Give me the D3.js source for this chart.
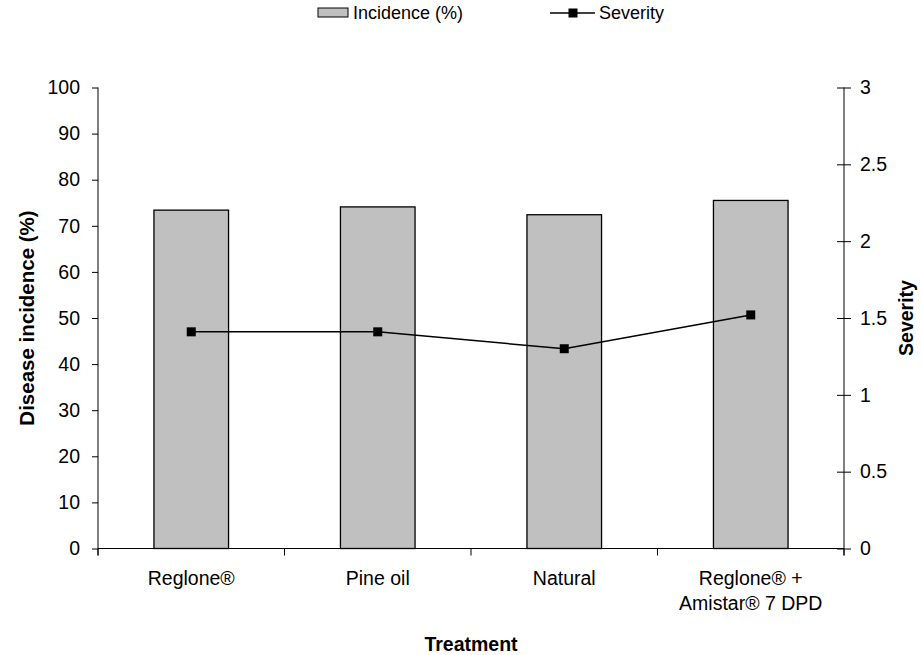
<!DOCTYPE html>
<html>
<head>
<meta charset="utf-8">
<script src="https://cdn.jsdelivr.net/npm/d3@7"></script>
<style>
  body { margin: 0; background: #fff; }
  svg text { font-family: "Liberation Sans", Arial, sans-serif; fill: #000; }
</style>
</head>
<body>
<svg id="chart" width="922" height="655"></svg>
<script>
// Treatments along the x axis
const treatments = [["Reglone®"], ["Pine oil"], ["Natural"], ["Reglone® +", "Amistar® 7 DPD"]];
// Disease incidence (%) — bars, left axis
const incidence = [73.4, 74.1, 72.4, 75.5];
// Severity — line with square markers, right axis
const severity = [1.41, 1.41, 1.30, 1.52];
// Tick values
const incidenceTicks = [0, 10, 20, 30, 40, 50, 60, 70, 80, 90, 100];
const severityTicks = [0, 0.5, 1, 1.5, 2, 2.5, 3];

const svg = d3.select("#chart");
const plotLeft = 98, plotRight = 844, plotTop = 87.5, plotBottom = 548.5;
const fontSize = "19.5px";

const x = d3.scaleBand().domain(d3.range(treatments.length)).range([plotLeft, plotRight]).paddingInner(0.6).paddingOuter(0.3);
const xb = d3.scaleBand().domain(d3.range(treatments.length)).range([plotLeft, plotRight]);
const yL = d3.scaleLinear().domain([0, 100]).range([plotBottom, plotTop]);
const yR = d3.scaleLinear().domain([0, 3]).range([plotBottom, plotTop]);

// Bars
svg.append("g").selectAll("rect").data(incidence).join("rect")
  .attr("x", (d, i) => x(i))
  .attr("y", d => yL(d))
  .attr("width", x.bandwidth())
  .attr("height", d => yL(0) - yL(d))
  .attr("fill", "#c0c0c0")
  .attr("stroke", "#000")
  .attr("stroke-width", 1.3);

// Left axis
const gL = svg.append("g").attr("transform", `translate(${plotLeft},0)`)
  .call(d3.axisLeft(yL).tickValues(incidenceTicks).tickSize(6).tickPadding(12).tickFormat(d3.format("d")));
gL.select(".domain").attr("d", `M0,${plotTop}V${plotBottom + 7}`);
gL.selectAll("text").style("font-size", fontSize).attr("font-family", null);

// Right axis (ticks cross the axis line)
const gR = svg.append("g").attr("transform", `translate(${plotRight},0)`)
  .call(d3.axisRight(yR).tickValues(severityTicks).tickSize(7).tickPadding(9).tickFormat(d => d));
gR.select(".domain").attr("d", `M0,${plotTop}V${plotBottom + 7}`);
gR.selectAll(".tick line").attr("x1", -7);
gR.selectAll("text").style("font-size", fontSize).attr("font-family", null);

// Category axis
const gX = svg.append("g");
gX.append("line").attr("x1", plotLeft).attr("x2", plotRight).attr("y1", plotBottom).attr("y2", plotBottom).attr("stroke", "#000");
gX.selectAll("line.sep").data(d3.range(treatments.length + 1)).join("line").attr("class", "sep")
  .attr("x1", i => plotLeft + i * xb.step()).attr("x2", i => plotLeft + i * xb.step())
  .attr("y1", plotBottom).attr("y2", plotBottom + 7).attr("stroke", "#000");
const labels = gX.selectAll("text").data(treatments).join("text")
  .attr("x", (d, i) => xb(i) + xb.bandwidth() / 2)
  .attr("y", 585)
  .attr("text-anchor", "middle")
  .style("font-size", fontSize);
labels.selectAll("tspan").data(d => d).join("tspan")
  .attr("x", function() { return this.parentNode.getAttribute("x"); })
  .attr("dy", (d, i) => i === 0 ? 0 : 25)
  .text(d => d);

// Severity line
const line = d3.line().x((d, i) => xb(i) + xb.bandwidth() / 2).y(d => yR(d));
svg.append("path").datum(severity).attr("d", line).attr("fill", "none").attr("stroke", "#000").attr("stroke-width", 1.5);
svg.append("g").selectAll("rect").data(severity).join("rect")
  .attr("x", (d, i) => xb(i) + xb.bandwidth() / 2 - 4.5)
  .attr("y", d => yR(d) - 4.5)
  .attr("width", 9).attr("height", 9).attr("fill", "#000");

// Axis titles
svg.append("text").attr("x", 471).attr("y", 651).attr("text-anchor", "middle")
  .style("font-size", fontSize).style("font-weight", "bold").text("Treatment");
svg.append("text").attr("transform", `translate(34,${(plotTop + plotBottom) / 2}) rotate(-90)`).attr("text-anchor", "middle")
  .style("font-size", "20.5px").style("font-weight", "bold").text("Disease incidence (%)");
svg.append("text").attr("transform", `translate(913,${(plotTop + plotBottom) / 2}) rotate(-90)`).attr("text-anchor", "middle")
  .style("font-size", fontSize).style("font-weight", "bold").text("Severity");

// Legend
const lg = svg.append("g");
lg.append("rect").attr("x", 318).attr("y", 8).attr("width", 30).attr("height", 9)
  .attr("fill", "#c0c0c0").attr("stroke", "#000").attr("stroke-width", 1);
lg.append("text").attr("x", 353).attr("y", 19).style("font-size", "18px").text("Incidence (%)");
lg.append("line").attr("x1", 550).attr("x2", 595).attr("y1", 13).attr("y2", 13).attr("stroke", "#000").attr("stroke-width", 1.5);
lg.append("rect").attr("x", 568.5).attr("y", 8.5).attr("width", 9).attr("height", 9).attr("fill", "#000");
lg.append("text").attr("x", 599).attr("y", 19).style("font-size", "18px").text("Severity");
</script>
</body>
</html>
